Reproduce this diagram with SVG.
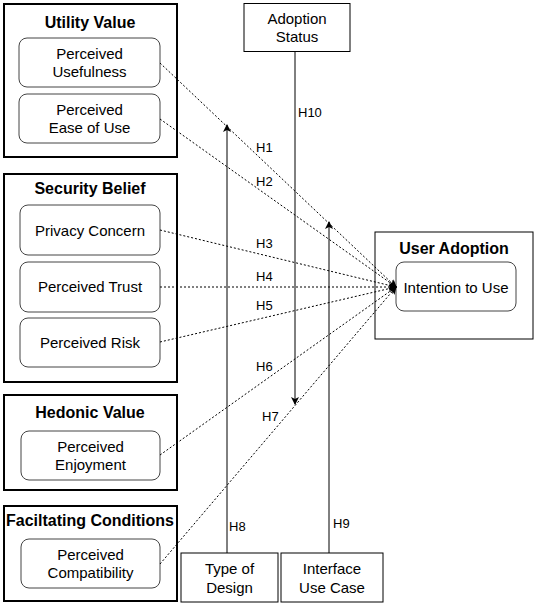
<svg xmlns="http://www.w3.org/2000/svg" width="536" height="605" viewBox="0 0 536 605">
<defs>
<marker id="ah" markerWidth="8" markerHeight="8" refX="7" refY="4" orient="auto" markerUnits="userSpaceOnUse">
<path d="M0,0 L8,4 L0,8 L2,4 Z" fill="#000"/>
</marker>
<style>
.grp{fill:#fff;stroke:#000;stroke-width:2}
.item{fill:#fff;stroke:#444;stroke-width:1}
.box{fill:#fff;stroke:#000;stroke-width:1}
.t{font-family:"Liberation Sans",Arial,sans-serif;font-size:15px;fill:#000;text-anchor:middle}
.b{font-family:"Liberation Sans",Arial,sans-serif;font-size:16px;font-weight:bold;fill:#000;text-anchor:middle}
.l{font-family:"Liberation Sans",Arial,sans-serif;font-size:13px;fill:#000}
.d{fill:none;stroke:#000;stroke-width:1;stroke-dasharray:2,2}
.s{fill:none;stroke:#000;stroke-width:1}
</style>
</defs>
<rect width="536" height="605" fill="#fff"/>
<g id="utility">
<rect class="grp" x="4" y="4" width="173" height="153"/>
<text class="b" x="90" y="28">Utility Value</text>
</g>
<g id="usefulness">
<rect class="item" x="19" y="38" width="141" height="49" rx="8"/>
<text class="t" x="89.5" y="59">Perceived</text>
<text class="t" x="89.5" y="77">Usefulness</text>
</g>
<g id="ease">
<rect class="item" x="19" y="94" width="141" height="49" rx="8"/>
<text class="t" x="89.5" y="115">Perceived</text>
<text class="t" x="89.5" y="133">Ease of Use</text>
</g>
<g id="security">
<rect class="grp" x="4" y="174" width="173" height="208"/>
<text class="b" x="90" y="194">Security Belief</text>
</g>
<g id="privacy">
<rect class="item" x="20" y="205" width="140" height="50" rx="8"/>
<text class="t" x="90" y="236">Privacy Concern</text>
</g>
<g id="trust">
<rect class="item" x="20" y="262" width="140" height="50" rx="8"/>
<text class="t" x="90" y="292">Perceived Trust</text>
</g>
<g id="risk">
<rect class="item" x="20" y="318" width="140" height="49" rx="8"/>
<text class="t" x="90" y="348">Perceived Risk</text>
</g>
<g id="hedonic">
<rect class="grp" x="4" y="395" width="173" height="95"/>
<text class="b" x="90" y="418">Hedonic Value</text>
</g>
<g id="enjoyment">
<rect class="item" x="21" y="431" width="139" height="49" rx="8"/>
<text class="t" x="90.5" y="452">Perceived</text>
<text class="t" x="90.5" y="470">Enjoyment</text>
</g>
<g id="facilitating">
<rect class="grp" x="4" y="506" width="173" height="95"/>
<text class="b" x="90" y="526">Faciltating Conditions</text>
</g>
<g id="compatibility">
<rect class="item" x="21" y="539" width="139" height="49" rx="8"/>
<text class="t" x="90.5" y="560">Perceived</text>
<text class="t" x="90.5" y="578">Compatibility</text>
</g>
<g id="adoption-status">
<rect class="box" x="244" y="3.5" width="106" height="48"/>
<text class="t" x="297" y="24">Adoption</text>
<text class="t" x="297" y="42">Status</text>
</g>
<g id="user-adoption">
<rect class="box" x="375" y="232" width="158" height="107"/>
<text class="b" x="454" y="254">User Adoption</text>
</g>
<g id="intention">
<rect class="item" x="396" y="262" width="120" height="49" rx="8"/>
<text class="t" x="456" y="293">Intention to Use</text>
</g>
<g id="type-design">
<rect class="box" x="181" y="553" width="97" height="49"/>
<text class="t" x="229.5" y="574">Type of</text>
<text class="t" x="229.5" y="593">Design</text>
</g>
<g id="interface">
<rect class="box" x="281" y="553" width="102" height="49"/>
<text class="t" x="332" y="574">Interface</text>
<text class="t" x="332" y="593">Use Case</text>
</g>
<g id="connectors">
<path class="d" d="M160,63 L396,287" marker-end="url(#ah)"/>
<path class="d" d="M160,119 L396,287" marker-end="url(#ah)"/>
<path class="d" d="M160,230 L396,287" marker-end="url(#ah)"/>
<path class="d" d="M160,287 L396,287" marker-end="url(#ah)"/>
<path class="d" d="M160,342 L396,287" marker-end="url(#ah)"/>
<path class="d" d="M160,455 L396,287" marker-end="url(#ah)"/>
<path class="d" d="M160,564 L396,287" marker-end="url(#ah)"/>
<path class="s" d="M295,52 L295,404" marker-end="url(#ah)"/>
<path class="s" d="M227,553 L227,125" marker-end="url(#ah)"/>
<path class="s" d="M329,553 L329,222" marker-end="url(#ah)"/>
<text class="l" x="256" y="152">H1</text>
<text class="l" x="256" y="186">H2</text>
<text class="l" x="256" y="248">H3</text>
<text class="l" x="256" y="281">H4</text>
<text class="l" x="256" y="310">H5</text>
<text class="l" x="256" y="371">H6</text>
<text class="l" x="262" y="421">H7</text>
<text class="l" x="229" y="531">H8</text>
<text class="l" x="333" y="528">H9</text>
<text class="l" x="298" y="117">H10</text>
</g>
</svg>
